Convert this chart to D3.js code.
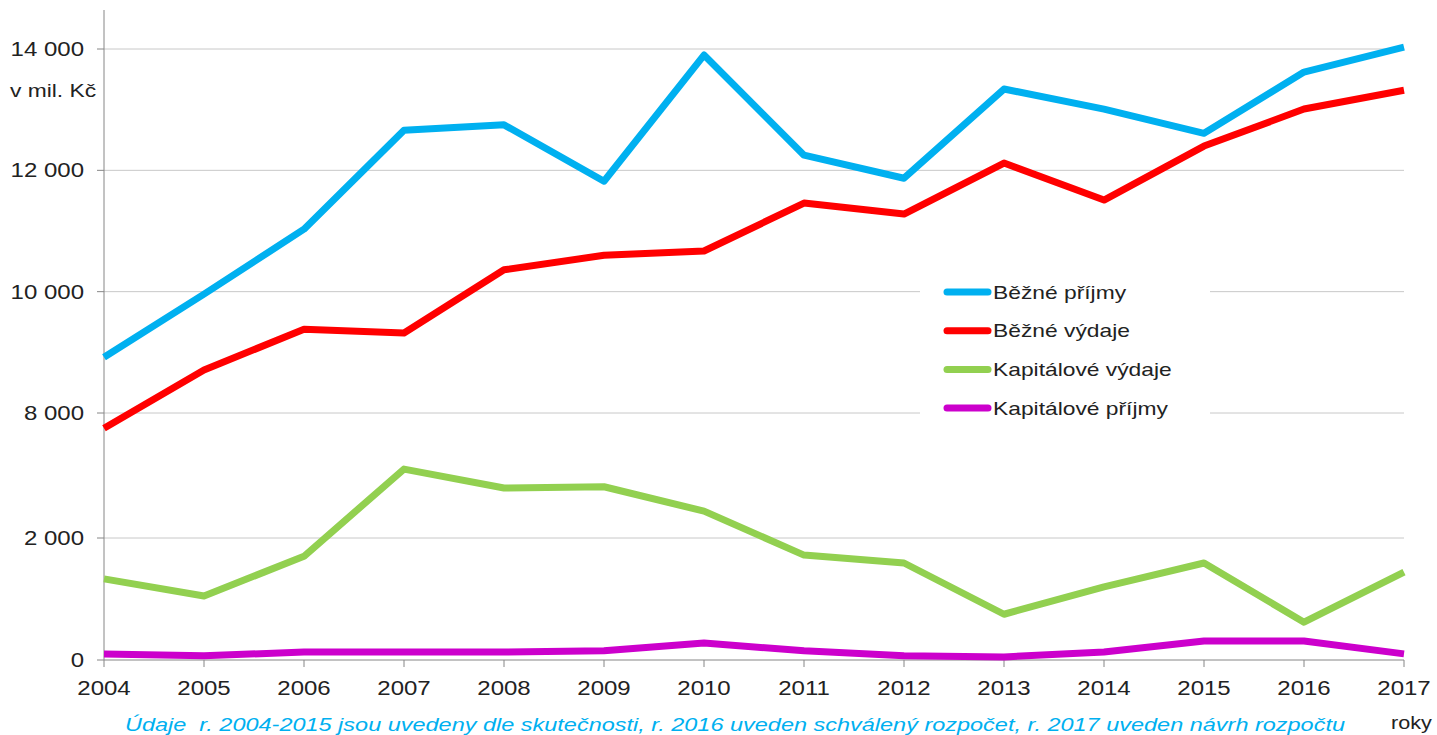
<!DOCTYPE html>
<html>
<head>
<meta charset="utf-8">
<script src="https://cdn.jsdelivr.net/npm/d3@7"></script>
<style>
  body { margin: 0; background: #fff; }
  svg { font-family: "Liberation Sans", Arial, sans-serif; }
</style>
</head>
<body>
<div id="chart"></div>
<script>
const years = [2004, 2005, 2006, 2007, 2008, 2009, 2010, 2011, 2012, 2013, 2014, 2015, 2016, 2017];

// upper part of the broken axis
const beznePrijmy = [8920, 9960, 11030, 12660, 12750, 11820, 13900, 12250, 11870, 13340, 13010, 12610, 13620, 14030];
const bezneVydaje = [7750, 8710, 9380, 9320, 10360, 10600, 10670, 11460, 11280, 12120, 11510, 12400, 13010, 13320];
// lower part of the broken axis
const kapitaloveVydaje = [1330, 1050, 1700, 3130, 2820, 2840, 2440, 1720, 1590, 750, 1200, 1590, 620, 1440];
const kapitalovePrijmy = [100, 70, 130, 130, 130, 150, 280, 150, 70, 50, 130, 310, 310, 100];

const upperTicks = [8000, 10000, 12000, 14000];
const lowerTicks = [0, 2000];

const series = [
    { name: "Běžné příjmy", values: beznePrijmy, color: "#00b0f0", part: "upper" },
    { name: "Běžné výdaje", values: bezneVydaje, color: "#ff0000", part: "upper" },
    { name: "Kapitálové výdaje", values: kapitaloveVydaje, color: "#92d050", part: "lower" },
    { name: "Kapitálové příjmy", values: kapitalovePrijmy, color: "#cc00cc", part: "lower" }
];

const W = 1437, H = 735;
const M = { left: 104, right: 1404, top: 10, bottom: 660 };
const STRETCH = 1.2; // source text is a bit wider than the font

const svg = d3.select("#chart").append("svg")
    .attr("width", W)
    .attr("height", H);

const x = d3.scaleLinear().domain([2004, 2017]).range([M.left, M.right]);
const yUpper = d3.scaleLinear().domain([8000, 14000]).range([413, 49]);
const yLower = d3.scaleLinear().domain([0, 2000]).range([M.bottom, 538]);

const fmt = v => d3.format(",")(v).replace(/,/g, " ");

function widen(sel) {
    sel.each(function () {
        const w = this.getComputedTextLength();
        d3.select(this)
            .attr("textLength", w * STRETCH)
            .attr("lengthAdjust", "spacingAndGlyphs");
    });
}

// gridlines
const allTicks = lowerTicks.map(v => ({ v, y: yLower(v) }))
    .concat(upperTicks.map(v => ({ v, y: yUpper(v) })));

svg.append("g").selectAll("line")
    .data(allTicks.filter(d => d.v !== 0))
    .join("line")
    .attr("x1", M.left).attr("x2", M.right)
    .attr("y1", d => d.y).attr("y2", d => d.y)
    .attr("stroke", "#c8c8c8")
    .attr("stroke-width", 1);

// y axis
svg.append("line")
    .attr("x1", M.left).attr("x2", M.left)
    .attr("y1", M.top).attr("y2", M.bottom)
    .attr("stroke", "#868686");

svg.append("g").selectAll("line")
    .data(allTicks)
    .join("line")
    .attr("x1", M.left - 7).attr("x2", M.left)
    .attr("y1", d => d.y).attr("y2", d => d.y)
    .attr("stroke", "#868686");

svg.append("g").selectAll("text")
    .data(allTicks)
    .join("text")
    .attr("x", 84)
    .attr("y", d => d.y)
    .attr("dy", "0.35em")
    .attr("text-anchor", "end")
    .attr("font-size", 20)
    .attr("fill", "#222")
    .text(d => fmt(d.v))
    .call(widen);

svg.append("text")
    .attr("x", 10).attr("y", 97)
    .attr("font-size", 19)
    .attr("fill", "#222")
    .text("v mil. Kč")
    .call(widen);

// x axis
svg.append("line")
    .attr("x1", M.left).attr("x2", M.right)
    .attr("y1", M.bottom).attr("y2", M.bottom)
    .attr("stroke", "#868686");

svg.append("g").selectAll("line")
    .data(years)
    .join("line")
    .attr("x1", d => x(d)).attr("x2", d => x(d))
    .attr("y1", M.bottom).attr("y2", M.bottom + 7)
    .attr("stroke", "#868686");

svg.append("g").selectAll("text")
    .data(years)
    .join("text")
    .attr("x", d => x(d))
    .attr("y", 695)
    .attr("text-anchor", "middle")
    .attr("font-size", 20)
    .attr("fill", "#222")
    .text(d => d)
    .call(widen);

svg.append("text")
    .attr("x", 1391).attr("y", 729)
    .attr("font-size", 18)
    .attr("fill", "#222")
    .text("roky")
    .call(widen);

svg.append("text")
    .attr("x", 735).attr("y", 731)
    .attr("text-anchor", "middle")
    .attr("font-size", 19)
    .attr("font-style", "italic")
    .attr("fill", "#00b0f0")
    .attr("textLength", 1220)
    .attr("lengthAdjust", "spacingAndGlyphs")
    .text("Údaje\u00a0 r. 2004-2015 jsou uvedeny dle skutečnosti, r. 2016 uveden schválený rozpočet, r. 2017 uveden návrh rozpočtu");

// lines
const lineGen = s => d3.line()
    .x((d, i) => x(years[i]))
    .y(d => (s.part === "upper" ? yUpper : yLower)(d));

svg.append("g").selectAll("path")
    .data(series)
    .join("path")
    .attr("fill", "none")
    .attr("stroke", d => d.color)
    .attr("stroke-width", 7)
    .attr("stroke-linejoin", "round")
    .attr("d", d => lineGen(d)(d.values));

// legend
const legend = svg.append("g");
legend.append("rect")
    .attr("x", 920).attr("y", 276)
    .attr("width", 290).attr("height", 156)
    .attr("fill", "#fff");

const items = legend.selectAll("g")
    .data(series)
    .join("g")
    .attr("transform", (d, i) => `translate(0,${292 + i * 38.7})`);

items.append("line")
    .attr("x1", 947).attr("x2", 988)
    .attr("stroke", d => d.color)
    .attr("stroke-width", 7)
    .attr("stroke-linecap", "round");

items.append("text")
    .attr("x", 993)
    .attr("dy", "0.35em")
    .attr("font-size", 19)
    .attr("fill", "#222")
    .text(d => d.name)
    .call(widen);
</script>
</body>
</html>
